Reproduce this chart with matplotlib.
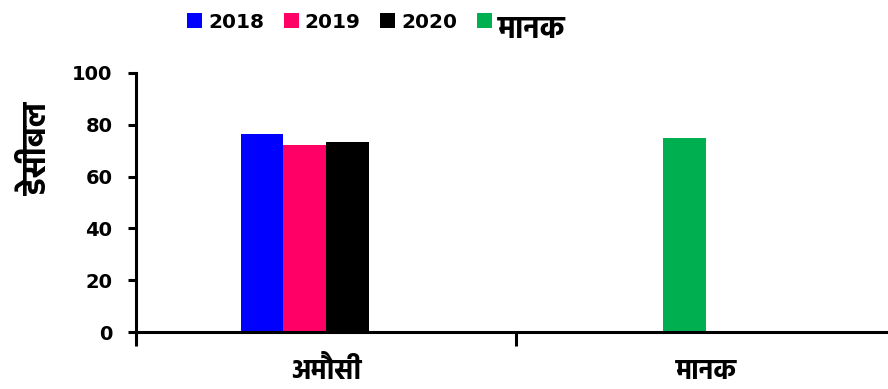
import matplotlib
matplotlib.use("Agg")
import matplotlib.pyplot as plt
import numpy as np
from matplotlib import font_manager
from matplotlib.transforms import ScaledTranslation

categories = ["अमौसी", "मानक"]
series_names = ["2018", "2019", "2020", "मानक"]
values_2018 = [76.4, np.nan]
values_2019 = [72.2, np.nan]
values_2020 = [73.4, np.nan]
values_standard = [np.nan, 75.0]
series_colors = ["#0000FF", "#FF0066", "#000000", "#00B050"]
y_ticks = [0, 20, 40, 60, 80, 100]
y_label = "डेसीबल"

# wide bold latin digits, then a bold devanagari font for the hindi text
bold_names = {f.name for f in font_manager.fontManager.ttflist if f.weight in (700, "bold")}
deva_pref = ["Hind", "Mukta", "Yantramanav", "Poppins", "Noto Sans Devanagari", "Amiko", "Biryani"]
families = ["DejaVu Sans"] + [f for f in deva_pref if f in bold_names][:1]
plt.rcParams["font.family"] = families
plt.rcParams["font.weight"] = "bold"

fig = plt.figure(figsize=(8.88, 3.89), dpi=100)
ax = fig.add_axes([136 / 888, 57 / 389, 760 / 888, 259 / 389])

series = [values_2018, values_2019, values_2020, values_standard]
slots = [0, 1, 2, 1]  # the standard bar sits in the second slot of its group
width = 0.112
x = np.arange(len(categories)) + 0.5
for vals, slot, name, color in zip(series, slots, series_names, series_colors):
    ax.bar(x + (slot - 1.5) * width, vals, width, color=color, label=name)

ax.set_xlim(0, len(categories))
ax.set_ylim(0, 100)
ax.set_yticks(y_ticks)
ax.set_xticks(np.arange(len(categories) + 1))
ax.set_xticklabels([])
ax.set_xticks(x, minor=True)
ax.set_xticklabels(categories, minor=True)

for side in ["top", "right"]:
    ax.spines[side].set_visible(False)
for side in ["left", "bottom"]:
    ax.spines[side].set_linewidth(2.2)

ax.tick_params(axis="y", which="major", direction="out", length=6, width=2.2,
               labelsize=14, pad=11)
ax.tick_params(axis="x", which="major", direction="out", length=10, width=2.2)
ax.tick_params(axis="x", which="minor", length=0, labelsize=20, pad=18)
for lab in ax.get_yticklabels() + ax.get_xticklabels(minor=True):
    lab.set_fontweight("bold")

fig.text(38 / 888, 1 - 149 / 389, y_label, rotation=90, ha="center", va="center",
         fontsize=23, fontweight="bold")

leg = fig.legend(loc="center left", bbox_to_anchor=(179 / 888, 1 - 19 / 389), ncol=4,
                 frameon=False, fontsize=14.5, handlelength=0.74, handleheight=0.74,
                 handletextpad=0.3, columnspacing=0.98, borderaxespad=0)
for t in leg.get_texts():
    t.set_fontweight("bold")
hindi = leg.get_texts()[-1]
hindi.set_fontsize(22)
# the hindi glyphs sit high on the baseline, nudge them down
hindi.set_transform(hindi.get_transform() + ScaledTranslation(0, -10 / 100, fig.dpi_scale_trans))

fig.savefig("out.png", dpi=100)
